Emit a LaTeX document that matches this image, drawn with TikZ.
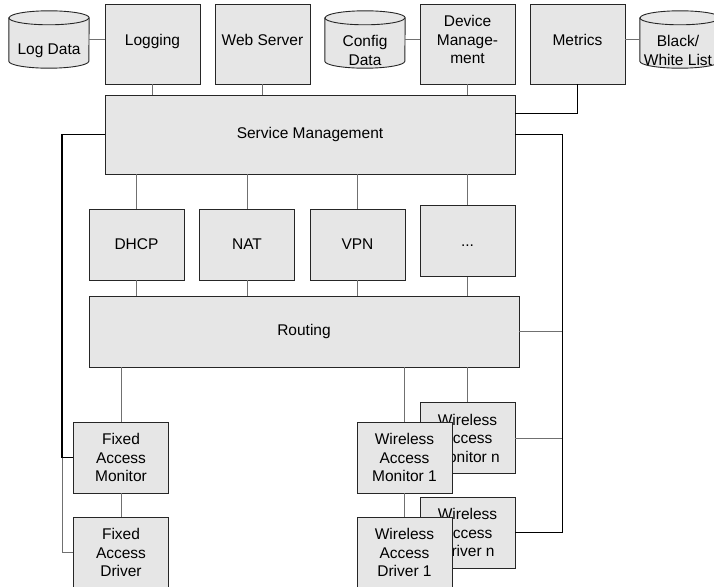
\documentclass[tikz,border=0pt]{standalone}
\usepackage{fontspec}
\setmainfont{Liberation Sans}
\usepackage{tikz}
\definecolor{boxfill}{HTML}{E6E6E6}
\definecolor{linkgray}{HTML}{707070}
\tikzstyle{box} = [draw=black!85, fill=boxfill, line width=0.9pt, minimum width=95pt, minimum height=71pt, inner sep=1pt, text centered, align=center, font=\fontsize{15.5}{18.5}\selectfont]
\tikzstyle{topbox} = [box, minimum height=80pt, text depth=9pt]
\tikzstyle{store} = [minimum width=80pt, minimum height=57pt, inner sep=0pt]
\tikzstyle{storetext} = [inner sep=0pt, yshift=-11pt, align=center, font=\fontsize{15.5}{18.5}\selectfont]
\tikzstyle{storeline} = [draw=black!85, fill=boxfill, line width=0.9pt]
\tikzstyle{link} = [draw=linkgray, line width=0.9pt]
\tikzstyle{bus} = [draw=black, line width=1.3pt]
\newcommand{\drum}[2]{%
    \filldraw[storeline] ([yshift=-7pt]#1.north west) -- ([yshift=7pt]#1.south west)
        arc[start angle=180, end angle=360, x radius=#2pt, y radius=7pt]
        -- ([yshift=-7pt]#1.north east)
        arc[start angle=0, end angle=180, x radius=#2pt, y radius=7pt] -- cycle;
    \draw[storeline, fill=none] ([yshift=-7pt]#1.north west)
        arc[start angle=180, end angle=360, x radius=#2pt, y radius=7pt];
}

\begin{document}
\begin{tikzpicture}[x=1pt, y=-1pt]
        \useasboundingbox (0,0) rectangle (714,586);

        \node[store] (logdata) at (49,39.5) {};
        \node[store] (cfgdata) at (365,39.5) {};
        \node[store] (bwlist) at (680,39.5) {};
        \drum{logdata}{40}
        \drum{cfgdata}{40}
        \drum{bwlist}{40}
        \node[storetext] (logdatatxt) at (logdata) {Log Data};
        \node[storetext] (cfgdatatxt) at (cfgdata) {Config\\Data};
        \node[storetext, xshift=-2pt] (bwlisttxt) at (bwlist) {Black/\\White List};

        \node[topbox] (logging) at (152.5,44) {Logging};
        \node[topbox] (websrv) at (262.5,44) {Web Server};
        \node[topbox] (devmgmt) at (467.5,44) {Device\\Manage-\\ment};
        \node[topbox] (metrics) at (577.5,44) {Metrics};

        \node[box, minimum width=410pt, minimum height=79pt] (svcmgmt) at (310,134.5) {Service Management};

        \node[box] (dhcp) at (136.5,244.5) {DHCP};
        \node[box] (nat) at (247,244.5) {NAT};
        \node[box] (vpn) at (357.5,244.5) {VPN};
        \node[box, text height=10pt, text depth=0pt] (more) at (467.5,241) {...};

        \node[box, minimum width=430pt] (routing) at (304,331.5) {Routing};

        \node[box] (wamn) at (467.5,438) {Wireless\\Access\\Monitor n};
        \node[box] (wadn) at (467.5,532.5) {Wireless\\Access\\Driver n};

        \coordinate (lbus) at (62,134.5);
        \coordinate (rbus) at (562,134.5);

        \draw[link] (logdata.east) -- (logdata.east -| logging.west);
        \draw[link] (cfgdata.east) -- (cfgdata.east -| devmgmt.west);
        \draw[link] (metrics.east |- bwlist.west) -- (bwlist.west);
        \draw[link] (logging.south) -- (logging.south |- svcmgmt.north);
        \draw[link] (websrv.south) -- (websrv.south |- svcmgmt.north);
        \draw[link] (devmgmt.south) -- (devmgmt.south |- svcmgmt.north);
        \draw[bus, line width=0.9pt] (metrics.south) |- ([yshift=21.5pt]svcmgmt.east);

        \draw[link] (dhcp.north) -- (dhcp.north |- svcmgmt.south);
        \draw[link] (nat.north) -- (nat.north |- svcmgmt.south);
        \draw[link] (vpn.north) -- (vpn.north |- svcmgmt.south);
        \draw[link] (more.north) -- (more.north |- svcmgmt.south);
        \draw[link] (dhcp.south) -- (dhcp.south |- routing.north);
        \draw[link] (nat.south) -- (nat.south |- routing.north);
        \draw[link] (vpn.south) -- (vpn.south |- routing.north);
        \draw[link] (more.south) -- (more.south |- routing.north);

        \node[box] (fammon) at (121,457.5) {Fixed\\Access\\Monitor};
        \node[box] (famdrv) at (121,552.5) {Fixed\\Access\\Driver};

        \draw[bus] (svcmgmt.west) -- (lbus) |- (fammon.west);
        \draw[link] (fammon.west -| lbus) |- (famdrv.west);
        \draw[bus, line width=0.9pt] (svcmgmt.east) -- (rbus) |- (wadn.east);
        \draw[link] (routing.east) -- (routing.east -| rbus);
        \draw[link] (wamn.east) -- (wamn.east -| rbus);

        \draw[link] (fammon.north) -- (fammon.north |- routing.south);
        \draw[link] (fammon.south) -- (famdrv.north);
        \draw[link] (wamn.north) -- (wamn.north |- routing.south);
        \draw[link] (404.5,422) -- (404.5,367);

        \node[box] (wam1) at (404.5,457.5) {Wireless\\Access\\Monitor 1};
        \node[box] (wad1) at (404.5,552.5) {Wireless\\Access\\Driver 1};
        \draw[link] (wam1.south) -- (wad1.north);
    \end{tikzpicture}
\end{document}
